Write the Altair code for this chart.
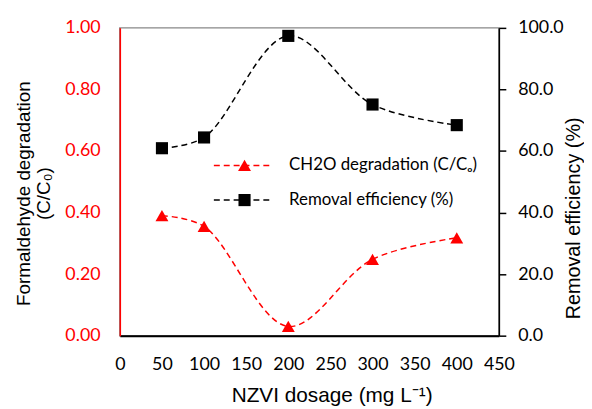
import altair as alt
import pandas as pd

dosage = [50, 100, 200, 300, 400]
ch2o = [0.39, 0.355, 0.03, 0.248, 0.318]
removal = [60.9, 64.4, 97.4, 75.1, 68.4]
series_names = ["CH2O degradation (C/Cₒ)", "Removal efficiency (%)"]
series_colors = ["#FF0000", "#000000"]
x_ticks = [0, 50, 100, 150, 200, 250, 300, 350, 400, 450]

df1 = pd.DataFrame({"x": dosage, "y": ch2o})
df2 = pd.DataFrame({"x": dosage, "y": removal})

TICKFONT = "Lato"
TITLEFONT = "Liberation Sans"

xenc = alt.X("x:Q", scale=alt.Scale(domain=[0, 450], nice=False),
             axis=alt.Axis(values=x_ticks, title="NZVI dosage (mg L⁻¹)", ticks=False,
                           labelOverlap=False, labelFlush=False,
                           domainColor="black", domainWidth=2, labelFont=TICKFONT,
                           labelFontSize=18, labelColor="black", labelPadding=20,
                           titleFont=TITLEFONT, titleFontSize=21, titleFontWeight="normal",
                           titleColor="black", titlePadding=12, titleX=214, grid=False))

y1 = alt.Y("y:Q", scale=alt.Scale(domain=[0, 1], nice=False),
           axis=alt.Axis(values=[0, 0.2, 0.4, 0.6, 0.8, 1.0], format=".2f",
                         title=["Formaldehyde degradation", "(C/C₀)"], ticks=False,
                         domainColor="#FF0000", domainWidth=1.5, labelFont=TICKFONT,
                         labelFontSize=18, labelColor="#FF0000", labelPadding=20,
                         titleFont=TITLEFONT, titleFontSize=19, titleFontWeight="normal",
                         titleColor="black", titlePadding=11, titleY=167, grid=False))

y2 = alt.Y("y:Q", scale=alt.Scale(domain=[0, 100], nice=False),
           axis=alt.Axis(values=[0, 20, 40, 60, 80, 100], format=".1f", orient="right",
                         title="Removal efficiency (%)", ticks=True, tickSize=7,
                         tickColor="black", tickWidth=1.5,
                         domainColor="black", domainWidth=1.5, labelFont=TICKFONT,
                         labelFontSize=18, labelColor="black", labelPadding=12,
                         titleFont=TITLEFONT, titleFontSize=20, titleFontWeight="normal",
                         titleColor="black", titlePadding=20, titleAngle=270, titleY=192,
                         grid=False))

line1 = alt.Chart(df1).mark_line(color=series_colors[0], strokeDash=[6, 4], strokeWidth=1.5,
                                 interpolate="catmull-rom").encode(x=xenc, y=y1)
pts1 = alt.Chart(df1).mark_point(shape="triangle-up", filled=True, color=series_colors[0],
                                 size=170, opacity=1).encode(x=xenc, y=y1)
line2 = alt.Chart(df2).mark_line(color=series_colors[1], strokeDash=[6, 4], strokeWidth=1.5,
                                 interpolate="catmull-rom").encode(x=xenc, y=y2)
pts2 = alt.Chart(df2).mark_square(filled=True, color=series_colors[1], size=150,
                                  opacity=1).encode(x=xenc, y=y2)

# manual legend
leg_y = [139, 174]
leg_shapes = ["triangle-up", "square"]
leg_sizes = [170, 150]
leg_layers = []
for name, col, ly, shp, sz in zip(series_names, series_colors, leg_y, leg_shapes, leg_sizes):
    d = pd.DataFrame({"label": [name]})
    leg_layers.append(alt.Chart(d).mark_rule(color=col, strokeDash=[6, 4], strokeWidth=1.5).encode(
        x=alt.value(95), x2=alt.value(155), y=alt.value(ly)))
    leg_layers.append(alt.Chart(d).mark_point(shape=shp, filled=True, color=col, size=sz, opacity=1).encode(
        x=alt.value(126), y=alt.value(ly)))
    leg_layers.append(alt.Chart(d).mark_text(align="left", baseline="middle", font=TICKFONT,
                                             fontSize=17, color="black").encode(
        x=alt.value(171), y=alt.value(ly), text="label:N"))

left = alt.layer(line1, pts1)
right = alt.layer(line2, pts2)

chart = alt.layer(left, right, *leg_layers).resolve_scale(y="independent").properties(
    width=383, height=311, padding={"left": 6, "top": 9, "right": 0, "bottom": 0}
).configure_view(stroke="#888888", strokeWidth=1.5)

chart.save("out.html", embed_options={"renderer": "svg", "actions": False})
